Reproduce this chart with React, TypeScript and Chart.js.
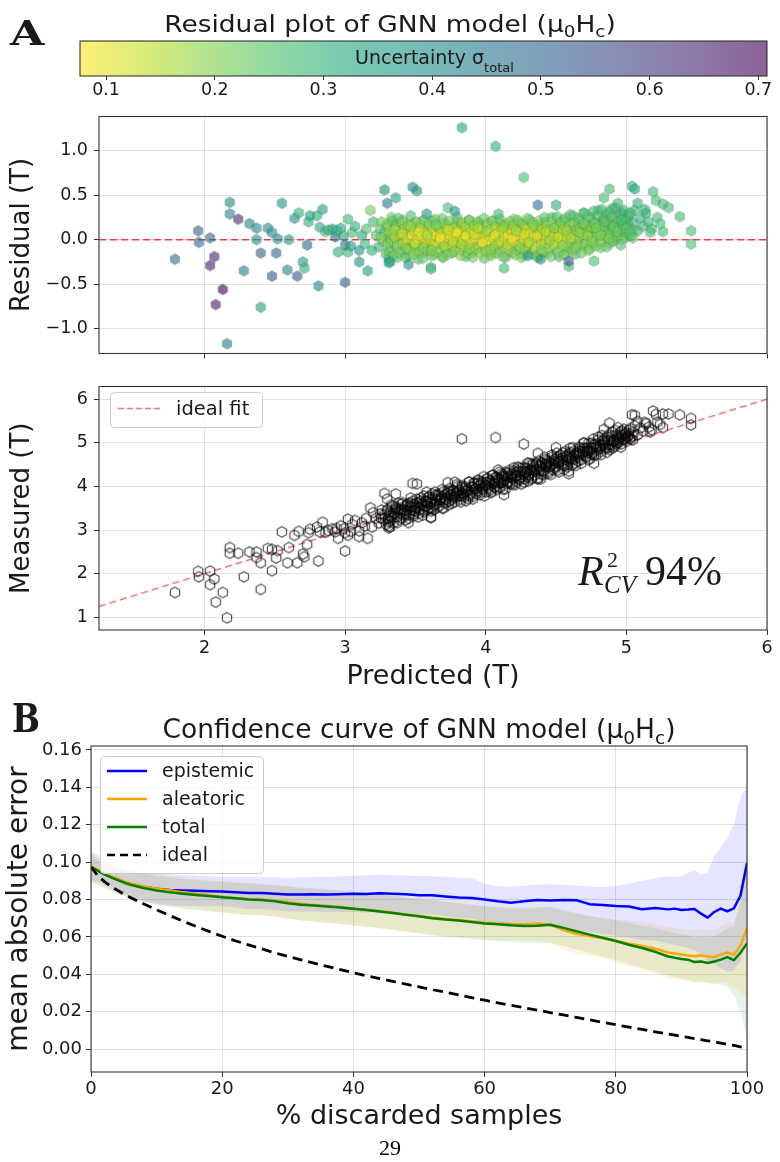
import React, { useEffect, useRef } from "react";
import { Chart, registerables } from "chart.js";

Chart.register(...registerables);

const SANS = "'DejaVu Sans', 'Noto Sans', sans-serif";
const SERIF = "'Liberation Serif', 'DejaVu Serif', serif";
const SLAB = "'DejaVu Serif', serif";
const INK = "#1a1a1a";

// ---------- Panel A: GNN predictions, [predicted (T), residual (T), sigma_total] ----------
const sparseSamples = [
  [1.79, -0.22, 0.47], [1.955, 0.1, 0.5], [1.96, -0.03, 0.49], [2.04, 0.02, 0.48], [2.07, -0.19, 0.64],
  [2.04, -0.29, 0.65], [2.13, -0.56, 0.7], [2.08, -0.73, 0.66], [2.16, -1.17, 0.43], [2.18, 0.42, 0.4],
  [2.18, 0.29, 0.41], [2.24, 0.23, 0.63], [2.28, -0.35, 0.44], [2.32, 0.18, 0.42], [2.37, 0.13, 0.42],
  [2.37, 0.0, 0.38], [2.4, -0.15, 0.5], [2.4, -0.76, 0.35], [2.45, 0.13, 0.4], [2.48, -0.41, 0.53],
  [2.48, 0.08, 0.4], [2.51, -0.15, 0.48], [2.52, 0.01, 0.4], [2.55, 0.41, 0.37], [2.59, -0.34, 0.42],
  [2.6, 0.0, 0.36], [2.64, 0.24, 0.4], [2.66, -0.41, 0.52], [2.67, 0.3, 0.3], [2.7, -0.25, 0.35],
  [2.71, -0.32, 0.3], [2.73, -0.06, 0.48], [2.74, 0.2, 0.3], [2.75, 0.27, 0.35], [2.8, 0.27, 0.3],
  [2.81, -0.52, 0.42], [2.84, 0.34, 0.35], [2.82, 0.14, 0.32], [2.86, 0.09, 0.28], [2.91, 0.12, 0.34],
  [2.93, 0.03, 0.48], [2.95, -0.14, 0.3], [2.97, 0.13, 0.32], [2.99, 0.04, 0.32], [3.0, -0.48, 0.5],
  [3.02, -0.14, 0.28], [3.02, 0.23, 0.28], [3.0, -0.06, 0.46], [3.04, -0.07, 0.35], [3.1, -0.25, 0.4],
  [3.1, -0.12, 0.38], [3.16, -0.35, 0.36], [3.18, 0.33, 0.22], [3.28, 0.56, 0.4], [3.3, 0.41, 0.45],
  [3.36, 0.47, 0.33], [3.31, -0.26, 0.32], [3.31, -0.21, 0.3], [2.88, 0.11, 0.29], [2.94, 0.1, 0.31],
  [3.05, 0.08, 0.27], [3.07, 0.15, 0.3], [3.12, 0.05, 0.32], [3.14, -0.05, 0.29], [3.15, 0.12, 0.26],
  [3.19, -0.12, 0.3], [3.2, 0.2, 0.28],
];

const bandSamples = [
  [3.22, 0.05, 0.26], [3.24, -0.08, 0.29], [3.25, 0.12, 0.24], [3.26, 0.2, 0.23], [3.27, -0.02, 0.22],
  [3.28, 0.08, 0.27], [3.29, -0.16, 0.26], [3.3, 0.15, 0.2], [3.31, 0.02, 0.26], [3.32, -0.1, 0.24],
  [3.33, 0.25, 0.22], [3.34, 0.06, 0.2], [3.35, -0.05, 0.27], [3.36, 0.18, 0.25], [3.37, -0.2, 0.23],
  [3.38, 0.1, 0.18], [3.39, 0.0, 0.22], [3.4, -0.12, 0.26],
  [3.41, 0.22, 0.21], [3.42, 0.04, 0.16], [3.43, -0.07, 0.2], [3.44, 0.14, 0.19], [3.45, -0.18, 0.26],
  [3.46, 0.09, 0.13], [3.47, -0.02, 0.2], [3.48, 0.18, 0.23], [3.49, -0.12, 0.21], [3.5, 0.03, 0.11],
  [3.51, 0.12, 0.2], [3.52, -0.22, 0.25], [3.53, -0.06, 0.18], [3.54, 0.2, 0.22], [3.55, 0.06, 0.15],
  [3.56, -0.14, 0.23], [3.57, 0.1, 0.2], [3.58, -0.03, 0.12], [3.59, 0.16, 0.24], [3.6, -0.09, 0.21],
  [3.61, 0.01, 0.17], [3.62, 0.21, 0.26], [3.63, -0.17, 0.22], [3.64, 0.08, 0.1], [3.65, -0.05, 0.19],
  [3.66, 0.13, 0.21], [3.67, -0.11, 0.2], [3.68, 0.04, 0.14], [3.69, 0.24, 0.23], [3.7, -0.2, 0.24],
  [3.71, 0.1, 0.18], [3.72, -0.01, 0.11], [3.73, 0.17, 0.21], [3.74, -0.08, 0.21], [3.75, 0.05, 0.16],
  [3.76, -0.15, 0.25], [3.77, 0.14, 0.19], [3.78, 0.0, 0.1], [3.79, -0.04, 0.22], [3.8, 0.2, 0.23],
  [3.81, 0.07, 0.15], [3.82, -0.12, 0.2], [3.83, 0.16, 0.2], [3.84, -0.02, 0.13], [3.85, 0.11, 0.22],
  [3.86, -0.19, 0.26], [3.87, 0.03, 0.1], [3.88, 0.22, 0.25], [3.89, -0.07, 0.19], [3.9, 0.09, 0.17],
  [3.91, -0.14, 0.23], [3.92, 0.15, 0.2], [3.93, 0.01, 0.12], [3.94, -0.05, 0.2], [3.95, 0.19, 0.22],
  [3.96, 0.06, 0.14], [3.97, -0.1, 0.21], [3.98, 0.12, 0.18], [3.99, -0.21, 0.24], [4.0, 0.02, 0.16],
  [4.01, 0.17, 0.21], [4.02, -0.06, 0.18], [4.03, 0.08, 0.11], [4.04, -0.16, 0.23], [4.05, 0.21, 0.24],
  [4.06, 0.0, 0.15], [4.07, -0.09, 0.2], [4.08, 0.13, 0.19], [4.09, 0.05, 0.1], [4.1, -0.13, 0.22],
  [4.11, 0.18, 0.21], [4.12, -0.03, 0.17], [4.13, 0.1, 0.2], [4.14, -0.2, 0.26], [4.15, 0.04, 0.13],
  [4.16, 0.15, 0.23], [4.17, -0.08, 0.21], [4.18, 0.07, 0.16], [4.19, -0.15, 0.24], [4.2, 0.23, 0.22],
  [4.21, 0.02, 0.18], [4.22, -0.11, 0.21], [4.23, 0.12, 0.12], [4.24, 0.19, 0.25], [4.25, -0.04, 0.19],
  [4.26, 0.08, 0.15], [4.27, -0.17, 0.24], [4.28, 0.15, 0.21], [4.29, 0.03, 0.11], [4.3, -0.08, 0.22],
  [4.31, 0.22, 0.23], [4.32, 0.06, 0.17], [4.33, -0.13, 0.2], [4.34, 0.11, 0.2], [4.35, -0.01, 0.14],
  [4.36, 0.17, 0.26], [4.37, -0.2, 0.25], [4.38, 0.09, 0.18], [4.39, 0.0, 0.21], [4.4, 0.14, 0.22],
  [4.41, -0.06, 0.2], [4.42, 0.2, 0.24], [4.43, 0.05, 0.16], [4.44, -0.15, 0.23], [4.45, 0.12, 0.2],
  [4.46, 0.02, 0.13], [4.47, 0.25, 0.25], [4.48, -0.1, 0.22], [4.49, 0.08, 0.19], [4.5, -0.03, 0.17],
  [4.51, 0.16, 0.23], [4.52, -0.19, 0.27], [4.53, 0.1, 0.21], [4.54, 0.04, 0.15], [4.55, 0.22, 0.26],
  [4.56, -0.08, 0.21], [4.57, 0.13, 0.22], [4.58, -0.13, 0.24], [4.59, 0.07, 0.18], [4.6, 0.18, 0.25],
  [4.61, -0.02, 0.21], [4.62, 0.27, 0.27], [4.63, 0.09, 0.2], [4.64, -0.16, 0.25], [4.65, 0.14, 0.23],
  [4.66, 0.03, 0.19], [4.67, 0.21, 0.26], [4.68, -0.07, 0.22], [4.69, 0.11, 0.21], [4.7, 0.3, 0.25],
  [4.71, 0.0, 0.2], [4.72, 0.16, 0.24], [4.73, -0.12, 0.23], [4.74, 0.07, 0.21], [4.75, 0.24, 0.27],
  [4.76, 0.12, 0.22], [4.77, -0.05, 0.21], [4.78, 0.19, 0.26], [4.79, 0.04, 0.2], [4.8, 0.33, 0.26],
  [4.81, 0.1, 0.23], [4.82, -0.09, 0.24], [4.83, 0.22, 0.28], [4.84, 0.15, 0.25], [4.85, 0.02, 0.22],
  [4.86, 0.28, 0.27], [4.87, 0.08, 0.24], [4.88, -0.04, 0.23], [4.89, 0.18, 0.29], [4.9, 0.35, 0.27],
  [4.91, 0.12, 0.25], [4.92, 0.0, 0.24], [4.93, 0.25, 0.28], [4.94, 0.06, 0.23], [4.95, 0.16, 0.3],
  [4.96, -0.06, 0.26], [4.97, 0.3, 0.29], [4.98, 0.1, 0.25], [4.99, 0.21, 0.27], [5.0, 0.03, 0.26],
  [5.01, 0.14, 0.28], [5.02, 0.27, 0.29], [5.03, 0.05, 0.26], [5.05, 0.19, 0.3], [5.06, 0.33, 0.27],
  [5.08, 0.1, 0.29], [5.1, 0.24, 0.31], [5.12, 0.15, 0.28], [5.14, 0.3, 0.3], [5.16, 0.2, 0.29],
  [5.18, 0.12, 0.27],
];

const bandFillSamples = [
  [3.302, 0.17, 0.2], [3.311, -0.13, 0.22], [3.318, 0.09, 0.18], [3.327, -0.01, 0.2], [3.336, 0.21, 0.24],
  [3.344, -0.18, 0.23], [3.353, 0.03, 0.15], [3.362, 0.14, 0.21], [3.37, -0.07, 0.19], [3.379, 0.24, 0.25],
  [3.388, -0.15, 0.21], [3.396, 0.06, 0.13], [3.405, 0.19, 0.2], [3.414, -0.04, 0.16], [3.422, 0.12, 0.17],
  [3.431, -0.2, 0.24], [3.44, 0.01, 0.12], [3.448, 0.16, 0.19], [3.457, -0.11, 0.18], [3.466, 0.27, 0.26],
  [3.474, 0.05, 0.11], [3.483, -0.17, 0.2], [3.492, 0.1, 0.14], [3.5, -0.06, 0.17], [3.509, 0.2, 0.21],
  [3.518, 0.0, 0.09], [3.526, -0.14, 0.2], [3.535, 0.13, 0.16], [3.544, 0.03, 0.1], [3.552, -0.21, 0.23],
  [3.561, 0.22, 0.21], [3.57, -0.03, 0.13], [3.578, 0.08, 0.1], [3.587, -0.12, 0.18], [3.596, 0.17, 0.2],
  [3.604, 0.01, 0.11], [3.613, -0.18, 0.21], [3.622, 0.11, 0.15], [3.63, -0.06, 0.14], [3.639, 0.23, 0.22],
  [3.648, 0.04, 0.09], [3.656, -0.14, 0.19], [3.665, 0.15, 0.18], [3.674, -0.01, 0.1], [3.682, 0.07, 0.12],
  [3.691, -0.19, 0.22], [3.7, 0.18, 0.2], [3.708, 0.02, 0.09], [3.717, -0.09, 0.16], [3.726, 0.12, 0.14],
  [3.734, -0.16, 0.21], [3.743, 0.21, 0.21], [3.752, 0.04, 0.09], [3.76, -0.06, 0.13], [3.769, 0.13, 0.17],
  [3.778, -0.13, 0.19], [3.786, 0.06, 0.1], [3.795, 0.25, 0.24], [3.804, -0.02, 0.11], [3.812, 0.1, 0.13],
  [3.821, -0.18, 0.2], [3.83, 0.19, 0.19], [3.838, 0.0, 0.09], [3.847, -0.08, 0.15], [3.856, 0.14, 0.16],
  [3.864, 0.05, 0.09], [3.873, -0.15, 0.2], [3.882, 0.22, 0.21], [3.89, -0.03, 0.12], [3.899, 0.09, 0.11],
  [3.908, -0.2, 0.22], [3.916, 0.16, 0.18], [3.925, 0.02, 0.09], [3.934, -0.1, 0.16], [3.942, 0.2, 0.21],
  [3.951, 0.07, 0.1], [3.96, -0.15, 0.2], [3.968, 0.12, 0.14], [3.977, -0.04, 0.11], [3.986, 0.24, 0.23],
  [3.994, 0.04, 0.1], [4.003, -0.13, 0.18], [4.012, 0.17, 0.19], [4.02, -0.01, 0.09], [4.029, 0.1, 0.12],
  [4.038, -0.18, 0.2], [4.046, 0.21, 0.2], [4.055, 0.03, 0.09], [4.064, -0.07, 0.14], [4.072, 0.14, 0.16],
  [4.081, -0.15, 0.21], [4.09, 0.08, 0.1], [4.098, 0.23, 0.22], [4.107, -0.03, 0.11], [4.116, 0.11, 0.13],
  [4.124, -0.19, 0.21], [4.133, 0.02, 0.09], [4.142, 0.18, 0.2], [4.15, -0.09, 0.16], [4.159, 0.06, 0.1],
  [4.168, 0.2, 0.21], [4.176, -0.12, 0.18], [4.185, 0.11, 0.12], [4.194, -0.02, 0.1], [4.202, 0.16, 0.18],
  [4.211, -0.17, 0.2], [4.22, 0.04, 0.09], [4.228, 0.22, 0.21], [4.237, -0.06, 0.13], [4.246, 0.09, 0.11],
  [4.254, -0.2, 0.22], [4.263, 0.17, 0.19], [4.272, 0.0, 0.1], [4.28, -0.11, 0.17], [4.289, 0.12, 0.13],
  [4.298, 0.24, 0.23], [4.306, -0.04, 0.12], [4.315, 0.07, 0.1], [4.324, -0.16, 0.21], [4.332, 0.19, 0.2],
  [4.341, 0.03, 0.11], [4.35, -0.09, 0.15], [4.358, 0.14, 0.16], [4.367, -0.18, 0.21], [4.376, 0.21, 0.2],
  [4.384, 0.05, 0.1], [4.393, -0.05, 0.14], [4.402, 0.12, 0.15], [4.41, -0.14, 0.2], [4.419, 0.25, 0.24],
  [4.428, 0.01, 0.12], [4.436, 0.16, 0.18], [4.445, -0.1, 0.17], [4.454, 0.08, 0.11], [4.462, -0.19, 0.22],
  [4.471, 0.2, 0.2], [4.48, 0.04, 0.13], [4.488, -0.06, 0.15], [4.497, 0.13, 0.17], [4.506, 0.26, 0.25],
  [4.514, -0.14, 0.21], [4.523, 0.07, 0.13], [4.532, 0.19, 0.21], [4.54, -0.02, 0.14], [4.549, 0.11, 0.16],
  [4.558, -0.17, 0.21], [4.566, 0.24, 0.23], [4.575, 0.03, 0.14], [4.584, -0.08, 0.18], [4.592, 0.15, 0.19],
  [4.601, 0.28, 0.26], [4.61, 0.05, 0.16], [4.618, -0.12, 0.21], [4.627, 0.18, 0.2], [4.636, 0.0, 0.17],
  [4.644, 0.1, 0.18], [4.653, -0.07, 0.2], [4.662, 0.24, 0.24], [4.67, 0.13, 0.2], [4.679, -0.15, 0.22],
  [4.688, 0.06, 0.18], [4.696, 0.3, 0.26], [4.705, 0.17, 0.2], [4.714, -0.04, 0.2], [4.722, 0.1, 0.19],
  [4.731, 0.26, 0.24], [4.74, -0.1, 0.21], [4.748, 0.14, 0.21], [4.757, 0.02, 0.19], [4.766, 0.32, 0.27],
  [4.774, 0.19, 0.22], [4.783, -0.07, 0.21], [4.792, 0.08, 0.2], [4.8, 0.27, 0.25], [4.809, 0.15, 0.21],
  [4.818, -0.02, 0.2], [4.826, 0.34, 0.27], [4.835, 0.11, 0.21], [4.844, 0.23, 0.24], [4.852, 0.04, 0.2],
  [4.861, -0.08, 0.23], [4.87, 0.18, 0.23], [4.878, 0.31, 0.27], [4.887, 0.07, 0.21], [4.896, 0.25, 0.25],
  [4.904, -0.02, 0.22], [4.913, 0.15, 0.23], [4.922, 0.36, 0.28], [4.93, 0.04, 0.22], [4.939, 0.2, 0.24],
  [4.948, 0.12, 0.23], [4.957, 0.29, 0.27], [4.966, 0.01, 0.23], [4.974, 0.17, 0.25], [4.983, 0.33, 0.28],
  [4.992, 0.08, 0.24], [5.0, 0.23, 0.26], [5.014, 0.16, 0.26], [5.028, 0.3, 0.28], [5.042, 0.11, 0.25],
];

const bandCoreSamples = [
  [3.255, 0.02, 0.2], [3.305, -0.04, 0.21], [3.355, 0.11, 0.17], [3.405, 0.07, 0.15], [3.435, -0.1, 0.21],
  [3.465, 0.15, 0.18], [3.495, -0.04, 0.14], [3.525, 0.09, 0.1], [3.555, -0.09, 0.2], [3.585, 0.05, 0.16],
  [3.615, -0.12, 0.2], [3.645, 0.16, 0.21], [3.675, 0.02, 0.09], [3.705, -0.07, 0.17], [3.735, 0.11, 0.13],
  [3.765, -0.02, 0.15], [3.795, 0.08, 0.09], [3.825, -0.05, 0.18], [3.855, 0.04, 0.11], [3.885, -0.1, 0.19],
  [3.915, 0.06, 0.14], [3.945, 0.13, 0.16], [3.975, -0.03, 0.1], [4.005, 0.09, 0.19], [4.035, -0.11, 0.2],
  [4.065, 0.05, 0.12], [4.095, -0.02, 0.16], [4.125, 0.14, 0.18], [4.155, -0.06, 0.15], [4.185, 0.01, 0.1],
  [4.215, 0.1, 0.17], [4.245, -0.09, 0.21], [4.275, 0.06, 0.13], [4.305, -0.03, 0.16], [4.335, 0.16, 0.19],
  [4.365, 0.04, 0.12], [4.395, -0.12, 0.2], [4.425, 0.09, 0.16], [4.455, -0.01, 0.18], [4.485, 0.13, 0.2],
  [4.515, 0.03, 0.14], [4.545, -0.07, 0.19], [4.575, 0.1, 0.17], [4.605, 0.02, 0.16], [4.635, -0.09, 0.21],
  [4.665, 0.08, 0.2], [4.695, 0.18, 0.22], [4.725, 0.04, 0.18], [4.755, -0.02, 0.2], [4.785, 0.13, 0.21],
  [4.815, 0.05, 0.21], [4.845, 0.2, 0.24], [4.875, 0.01, 0.21], [4.905, 0.14, 0.23], [4.935, 0.09, 0.22],
  [4.965, 0.22, 0.26], [4.995, 0.13, 0.24], [5.025, 0.08, 0.25], [5.045, 0.02, 0.24],
];

const edgeSamples = [
  [3.45, -0.28, 0.4], [3.61, -0.31, 0.3], [3.61, -0.33, 0.27], [3.32, -0.25, 0.34], [3.58, 0.29, 0.36],
  [3.73, 0.36, 0.27], [3.78, 0.32, 0.38], [4.09, 0.29, 0.28], [4.37, 0.39, 0.47], [4.5, 0.39, 0.3],
  [4.13, -0.32, 0.27], [4.39, -0.22, 0.38], [4.59, -0.3, 0.27], [4.59, -0.24, 0.52], [4.77, -0.24, 0.26],
  [4.3, -0.18, 0.36], [3.51, 0.55, 0.38], [3.48, 0.59, 0.4], [4.88, 0.57, 0.27], [4.84, 0.47, 0.27],
  [5.04, 0.6, 0.3], [5.06, 0.57, 0.33], [5.19, 0.54, 0.27], [5.21, 0.44, 0.27], [5.26, 0.4, 0.28],
  [5.3, 0.36, 0.27], [5.38, 0.26, 0.27], [5.46, 0.1, 0.26], [5.46, -0.05, 0.26], [5.26, 0.09, 0.27],
  [5.17, 0.08, 0.26], [4.94, 0.41, 0.28], [5.08, 0.41, 0.3], [5.13, 0.34, 0.3], [5.22, 0.25, 0.27],
  [5.24, 0.18, 0.27], [3.83, 1.26, 0.33], [4.07, 1.05, 0.3], [4.27, 0.7, 0.26],
];

const predictedTicks = [2, 3, 4, 5, 6];
const residualTicks = [-1, -0.5, 0, 0.5, 1];
const measuredTicks = [1, 2, 3, 4, 5, 6];
const sigmaTicks = [0.1, 0.2, 0.3, 0.4, 0.5, 0.6, 0.7];
const predictedRange = [1.25, 6];
const residualRange = [-1.28, 1.385];
const measuredRange = [0.71, 6.29];
const sigmaRange = [0.076, 0.708];

// ---------- Panel B: confidence curves ----------
const discardedPct = [
  0, 1, 2, 3, 4, 5, 6, 8, 10, 12, 14, 16, 18, 20, 22, 24, 26, 28, 30, 32,
  34, 36, 38, 40, 42, 44, 46, 48, 50, 52, 54, 56, 58, 60, 62, 64, 66, 68, 70, 72,
  74, 76, 78, 80, 82, 84, 86, 88, 89, 90, 91, 92, 93, 94, 95, 96, 97, 98, 99, 100,
];
const epistemicMae = [
  0.0975, 0.0955, 0.0937, 0.0921, 0.0907, 0.0894, 0.0883, 0.0868, 0.0857, 0.0851,
  0.0848, 0.0846, 0.0844, 0.0843, 0.0839, 0.0834, 0.0835, 0.083, 0.0826, 0.0827,
  0.0828, 0.0826, 0.0828, 0.083, 0.0829, 0.0833, 0.0831, 0.0828, 0.0823, 0.0822,
  0.0816, 0.081, 0.0808, 0.08, 0.079, 0.0783, 0.0791, 0.0797, 0.0795, 0.0797,
  0.0796, 0.0775, 0.077, 0.0765, 0.0762, 0.0748, 0.0754, 0.0747, 0.0751, 0.0744,
  0.0746, 0.0749, 0.0724, 0.0703, 0.0733, 0.0751, 0.0737, 0.0752, 0.082, 0.0995,
];
const epistemicUpper = [
  0.1045, 0.1015, 0.0995, 0.0978, 0.0966, 0.0957, 0.095, 0.0944, 0.094, 0.0935,
  0.0931, 0.0927, 0.0924, 0.0922, 0.0921, 0.0919, 0.0921, 0.0918, 0.0916, 0.0918,
  0.092, 0.0921, 0.0924, 0.0927, 0.0929, 0.0932, 0.093, 0.0928, 0.0925, 0.0924,
  0.0921, 0.0918, 0.0914, 0.0886, 0.0871, 0.0868, 0.0874, 0.088, 0.0881, 0.0878,
  0.0875, 0.0869, 0.0866, 0.0874, 0.0884, 0.0899, 0.0913, 0.0924, 0.0921, 0.0926,
  0.0941, 0.0958, 0.0935, 0.0945, 0.1035, 0.108, 0.113, 0.12, 0.135, 0.14,
];
const epistemicLower = [
  0.0905, 0.0895, 0.0879, 0.0864, 0.0848, 0.0831, 0.0816, 0.0792, 0.0774, 0.0767,
  0.0765, 0.0765, 0.0764, 0.0764, 0.0757, 0.0749, 0.0749, 0.0742, 0.0736, 0.0736,
  0.0736, 0.0731, 0.0732, 0.0733, 0.0729, 0.0734, 0.0732, 0.0728, 0.0721, 0.072,
  0.0711, 0.0702, 0.0698, 0.0682, 0.067, 0.0662, 0.0665, 0.0664, 0.0659, 0.0652,
  0.064, 0.0625, 0.0617, 0.0606, 0.0597, 0.0583, 0.058, 0.0566, 0.0558, 0.0549,
  0.054, 0.053, 0.0508, 0.0472, 0.0455, 0.0432, 0.0415, 0.042, 0.047, 0.06,
];
const aleatoricMae = [
  0.0975, 0.096, 0.0941, 0.0925, 0.0911, 0.0897, 0.0886, 0.0869, 0.0858, 0.0849,
  0.0838, 0.083, 0.0822, 0.0815, 0.0808, 0.0803, 0.08, 0.0795, 0.0786, 0.0777,
  0.0771, 0.0765, 0.076, 0.0752, 0.0745, 0.0738, 0.0729, 0.072, 0.0712, 0.0703,
  0.0696, 0.069, 0.0683, 0.0676, 0.0672, 0.0669, 0.0668, 0.0671, 0.0664, 0.0636,
  0.0616, 0.0605, 0.0593, 0.0578, 0.0563, 0.0551, 0.0536, 0.0516, 0.0511, 0.0506,
  0.05, 0.0496, 0.0501, 0.0495, 0.0492, 0.0506, 0.0516, 0.0505, 0.0552, 0.0648,
];
const aleatoricUpper = [
  0.1058, 0.104, 0.1016, 0.0998, 0.0984, 0.0971, 0.096, 0.0944, 0.0933, 0.0926,
  0.0917, 0.091, 0.0904, 0.0899, 0.0893, 0.0889, 0.0885, 0.088, 0.0873, 0.0866,
  0.0861, 0.0856, 0.085, 0.0843, 0.0837, 0.083, 0.0822, 0.0814, 0.0806, 0.0798,
  0.079, 0.0783, 0.0775, 0.0766, 0.0762, 0.0758, 0.0757, 0.0761, 0.076, 0.0738,
  0.0722, 0.071, 0.0702, 0.0694, 0.0686, 0.0678, 0.0668, 0.0652, 0.0648, 0.0643,
  0.064, 0.0636, 0.0642, 0.0638, 0.064, 0.0656, 0.0672, 0.068, 0.08, 0.1,
];
const aleatoricLower = [
  0.0892, 0.088, 0.0866, 0.0852, 0.0838, 0.0823, 0.0812, 0.0794, 0.0783, 0.0772,
  0.0759, 0.075, 0.074, 0.0731, 0.0723, 0.0717, 0.0715, 0.071, 0.0699, 0.0688,
  0.0681, 0.0674, 0.067, 0.0661, 0.0653, 0.0646, 0.0636, 0.0626, 0.0618, 0.0608,
  0.0602, 0.0597, 0.0591, 0.0586, 0.0582, 0.058, 0.0579, 0.0581, 0.0568, 0.0534,
  0.051, 0.05, 0.0486, 0.0462, 0.044, 0.0424, 0.0404, 0.038, 0.0374, 0.0369,
  0.036, 0.0356, 0.036, 0.0352, 0.0344, 0.0356, 0.036, 0.033, 0.03, 0.029,
];
const totalMae = [
  0.0975, 0.0955, 0.0935, 0.092, 0.0905, 0.0891, 0.0879, 0.0861, 0.0848, 0.0838,
  0.083, 0.0824, 0.0818, 0.0812, 0.0806, 0.08, 0.0797, 0.079, 0.078, 0.0772,
  0.0768, 0.0762, 0.0757, 0.075, 0.0744, 0.0736, 0.0727, 0.0718, 0.071, 0.07,
  0.0693, 0.0688, 0.068, 0.0672, 0.0668, 0.0662, 0.0658, 0.066, 0.0665, 0.0648,
  0.063, 0.0612, 0.0595, 0.0578, 0.0558, 0.054, 0.052, 0.0495, 0.0488, 0.0482,
  0.0478, 0.0465, 0.0468, 0.046, 0.0468, 0.0478, 0.0492, 0.0475, 0.0515, 0.0565,
];
const totalUpper = [
  0.1055, 0.1035, 0.101, 0.0992, 0.0978, 0.0965, 0.0953, 0.0937, 0.0925, 0.0917,
  0.091, 0.0904, 0.0899, 0.0895, 0.089, 0.0885, 0.0881, 0.0875, 0.0868, 0.0862,
  0.0857, 0.0852, 0.0846, 0.084, 0.0834, 0.0827, 0.0819, 0.081, 0.0802, 0.0794,
  0.0787, 0.078, 0.0771, 0.0762, 0.0757, 0.0752, 0.075, 0.0754, 0.0761, 0.0745,
  0.0728, 0.0712, 0.07, 0.0688, 0.0674, 0.066, 0.0646, 0.0628, 0.062, 0.0612,
  0.0608, 0.0598, 0.0602, 0.0596, 0.0605, 0.062, 0.0645, 0.066, 0.078, 0.105,
];
const totalLower = [
  0.0895, 0.0877, 0.086, 0.0848, 0.0833, 0.0818, 0.0806, 0.0786, 0.0772, 0.076,
  0.0751, 0.0744, 0.0737, 0.073, 0.0724, 0.0718, 0.0714, 0.0707, 0.0697, 0.0688,
  0.0682, 0.0675, 0.0668, 0.0661, 0.0655, 0.0647, 0.0638, 0.0629, 0.062, 0.061,
  0.0602, 0.0596, 0.0589, 0.0582, 0.0578, 0.0572, 0.0567, 0.0566, 0.0568, 0.0552,
  0.0533, 0.0513, 0.0494, 0.0476, 0.0455, 0.0434, 0.0413, 0.0392, 0.0384, 0.0376,
  0.037, 0.036, 0.0362, 0.0354, 0.035, 0.0345, 0.0335, 0.029, 0.02, 0.006,
];
const idealMae = [
  0.0975, 0.0928, 0.0897, 0.0871, 0.0849, 0.0829, 0.0811, 0.0777, 0.0745, 0.0714,
  0.0684, 0.0656, 0.0629, 0.0603, 0.0579, 0.0557, 0.0536, 0.0515, 0.0495, 0.0477,
  0.0459, 0.0442, 0.0425, 0.0408, 0.0392, 0.0377, 0.0362, 0.0347, 0.0333, 0.0318,
  0.0304, 0.029, 0.0275, 0.0261, 0.0247, 0.0234, 0.0221, 0.0208, 0.0195, 0.0182,
  0.0169, 0.0156, 0.0143, 0.013, 0.0117, 0.0105, 0.0092, 0.008, 0.0074, 0.0068,
  0.0062, 0.0056, 0.005, 0.0044, 0.0038, 0.0032, 0.0025, 0.0019, 0.0012, 0.0005,
];
const discardedTicks = [0, 20, 40, 60, 80, 100];
const maeTicks = [0, 0.02, 0.04, 0.06, 0.08, 0.1, 0.12, 0.14, 0.16];
const maeRange = [-0.0123, 0.1621];

// ---------- helpers ----------
const samples = [...sparseSamples, ...bandSamples, ...bandFillSamples, ...bandCoreSamples, ...edgeSamples];

const VIRIDIS = [
  [68, 1, 84], [72, 36, 117], [65, 68, 135], [53, 95, 141], [42, 120, 142], [33, 145, 140],
  [34, 168, 132], [68, 191, 112], [122, 209, 81], [189, 223, 38], [253, 231, 37],
];

function viridisR(t: number) {
  const u = 1 - Math.min(1, Math.max(0, t));
  const p = u * 10;
  const i = Math.min(9, Math.floor(p));
  const f = p - i;
  const a = VIRIDIS[i];
  const b = VIRIDIS[i + 1];
  return [0, 1, 2].map((k) => Math.round(a[k] + (b[k] - a[k]) * f));
}

function normColor(t: number, alpha: number) {
  const [r, g, b] = viridisR(t);
  return `rgba(${r},${g},${b},${alpha})`;
}

function sigmaColor(s: number, alpha: number) {
  return normColor((s - sigmaRange[0]) / (sigmaRange[1] - sigmaRange[0]), alpha);
}

const hexCache = new Map<string, HTMLCanvasElement>();
function hexMarker(fill: string | null, stroke: string | null, r: number, lw: number) {
  const key = `${fill}|${stroke}|${r}|${lw}`;
  const hit = hexCache.get(key);
  if (hit) return hit;
  const size = Math.ceil(2 * r + lw + 2);
  const c = document.createElement("canvas");
  c.width = size;
  c.height = size;
  const g = c.getContext("2d")!;
  const cx = size / 2;
  const cy = size / 2;
  g.beginPath();
  for (let k = 0; k < 6; k++) {
    const a = -Math.PI / 2 + (k * Math.PI) / 3;
    const x = cx + r * Math.cos(a);
    const y = cy + r * Math.sin(a);
    if (k === 0) g.moveTo(x, y);
    else g.lineTo(x, y);
  }
  g.closePath();
  if (fill) {
    g.fillStyle = fill;
    g.fill();
  }
  if (stroke) {
    g.strokeStyle = stroke;
    g.lineWidth = lw;
    g.stroke();
  }
  hexCache.set(key, c);
  return c;
}

type Seg = { t: string; size: number; dy?: number; family?: string; style?: string };

function drawRich(ctx: any, segs: Seg[], x: number, y: number, align: string, sx = 1, color = INK) {
  ctx.save();
  ctx.fillStyle = color;
  ctx.textBaseline = "alphabetic";
  ctx.textAlign = "left";
  const fontOf = (s: Seg) => `${s.style ? s.style + " " : ""}${s.size}px ${s.family || SANS}`;
  const ws = segs.map((s) => {
    ctx.font = fontOf(s);
    return ctx.measureText(s.t).width;
  });
  const total = ws.reduce((a, b) => a + b, 0) * sx;
  const x0 = align === "center" ? x - total / 2 : x;
  ctx.translate(x0, y);
  ctx.scale(sx, 1);
  let off = 0;
  segs.forEach((s, i) => {
    ctx.font = fontOf(s);
    ctx.fillText(s.t, off, s.dy || 0);
    off += ws[i];
  });
  ctx.restore();
}

function roundRect(ctx: any, x: number, y: number, w: number, h: number, r: number) {
  ctx.beginPath();
  ctx.moveTo(x + r, y);
  ctx.arcTo(x + w, y, x + w, y + h, r);
  ctx.arcTo(x + w, y + h, x, y + h, r);
  ctx.arcTo(x, y + h, x, y, r);
  ctx.arcTo(x, y, x + w, y, r);
  ctx.closePath();
}

function drawFrame(chart: any) {
  const { ctx, chartArea: a } = chart;
  ctx.save();
  ctx.strokeStyle = "#333";
  ctx.lineWidth = 1.1;
  ctx.strokeRect(a.left, a.top, a.right - a.left, a.bottom - a.top);
  ctx.restore();
}

function legendBox(ctx: any, x: number, y: number, w: number, h: number) {
  ctx.save();
  roundRect(ctx, x, y, w, h, 4);
  ctx.fillStyle = "rgba(255,255,255,0.8)";
  ctx.fill();
  ctx.strokeStyle = "#cccccc";
  ctx.lineWidth = 1;
  ctx.stroke();
  ctx.restore();
}

function legendEntry(ctx: any, x0: number, x1: number, y: number, color: string, lw: number, dash: number[], label: string, tx: number, size: number) {
  ctx.save();
  ctx.strokeStyle = color;
  ctx.lineWidth = lw;
  ctx.setLineDash(dash);
  ctx.beginPath();
  ctx.moveTo(x0, y);
  ctx.lineTo(x1, y);
  ctx.stroke();
  ctx.setLineDash([]);
  ctx.fillStyle = INK;
  ctx.font = `${size}px ${SANS}`;
  ctx.textBaseline = "middle";
  ctx.textAlign = "left";
  ctx.fillText(label, tx, y + 1);
  ctx.restore();
}

const minus = (v: number, d: number) => (v < 0 ? "\u2212" : "") + Math.abs(v).toFixed(d);

const gridOpts = {
  color: "rgba(0,0,0,0.12)",
  lineWidth: 1,
  drawTicks: true,
  tickLength: 5,
  tickColor: "#333",
  tickWidth: 1,
};

function fixedTicks(values: number[]) {
  return (axis: any) => {
    axis.ticks = values.map((value) => ({ value }));
  };
}

const baseOptions = {
  animation: false as const,
  responsive: false,
  events: [] as any[],
  plugins: { legend: { display: false }, tooltip: { enabled: false } },
};

export default function App() {
  const cbRef = useRef<HTMLCanvasElement>(null);
  const resRef = useRef<HTMLCanvasElement>(null);
  const measRef = useRef<HTMLCanvasElement>(null);
  const confRef = useRef<HTMLCanvasElement>(null);

  useEffect(() => {
    Chart.defaults.font.family = SANS;
    Chart.defaults.color = INK;
    const charts: Chart[] = [];

    // Colour bar with the figure title
    charts.push(
      new Chart(cbRef.current!, {
        type: "scatter",
        data: { datasets: [{ data: [] }] },
        options: {
          ...baseOptions,
          layout: { padding: { left: 80, right: 13, top: 41, bottom: 4 } },
          scales: {
            x: {
              type: "linear",
              bounds: "data",
              min: sigmaRange[0],
              max: sigmaRange[1],
              afterBuildTicks: fixedTicks(sigmaTicks),
              afterFit: (a: any) => {
                a.height = 20;
              },
              grid: { display: true, drawOnChartArea: false, drawTicks: true, tickLength: 4, tickColor: "#333" },
              border: { display: false },
              ticks: { padding: 0, autoSkip: false, maxRotation: 0, font: { size: 17.5 }, callback: (v: any) => Number(v).toFixed(1) },
            },
            y: { display: false, min: 0, max: 1 },
          },
        } as any,
        plugins: [
          {
            id: "colorbar",
            beforeDatasetsDraw(chart: any) {
              const { ctx, chartArea: a } = chart;
              const g = ctx.createLinearGradient(a.left, 0, a.right, 0);
              for (let i = 0; i <= 40; i++) g.addColorStop(i / 40, normColor(i / 40, 0.62));
              ctx.save();
              ctx.fillStyle = g;
              ctx.fillRect(a.left, a.top, a.right - a.left, a.bottom - a.top);
              ctx.restore();
            },
            afterDraw(chart: any) {
              const { ctx } = chart;
              drawFrame(chart);
              drawRich(ctx, [{ t: "Uncertainty \u03c3", size: 19 }, { t: "total", size: 13, dy: 8 }], 355, 64, "left");
              drawRich(
                ctx,
                [
                  { t: "Residual plot of GNN model (\u03bc", size: 23 },
                  { t: "0", size: 16, dy: 5 },
                  { t: "H", size: 23 },
                  { t: "c", size: 16, dy: 5 },
                  { t: ")", size: 23 },
                ],
                390,
                31.5,
                "center",
                1.15
              );
              drawRich(ctx, [{ t: "A", size: 34, family: SLAB, style: "bold" }], 10, 45, "left", 1.3);
            },
          },
        ],
      })
    );

    // Residual panel
    charts.push(
      new Chart(resRef.current!, {
        type: "scatter",
        data: {
          datasets: [
            {
              type: "line",
              data: predictedRange.map((x) => ({ x, y: 0 })),
              borderColor: "rgba(255,0,0,0.75)",
              borderWidth: 1.5,
              borderDash: [7, 4],
              pointRadius: 0,
              fill: false,
              order: 2,
            },
            {
              data: samples.map((s) => ({ x: s[0], y: s[1] })),
              pointRadius: 5.5,
              pointStyle: (c: any) => {
                const s = samples[c.dataIndex] || samples[0];
                return hexMarker(sigmaColor(s[2], 0.62), "rgba(70,70,70,0.32)", 5.5, 0.7);
              },
              order: 1,
            },
          ],
        },
        options: {
          ...baseOptions,
          layout: { padding: { left: 7, right: 13, top: 11, bottom: 3 } },
          scales: {
            x: {
              type: "linear",
              bounds: "data",
              min: predictedRange[0],
              max: predictedRange[1],
              afterBuildTicks: fixedTicks(predictedTicks),
              afterFit: (a: any) => {
                a.height = 6;
              },
              grid: gridOpts,
              border: { display: false },
              ticks: { display: false },
            },
            y: {
              type: "linear",
              bounds: "data",
              min: residualRange[0],
              max: residualRange[1],
              afterBuildTicks: fixedTicks(residualTicks),
              afterFit: (a: any) => {
                a.width = 92;
              },
              grid: gridOpts,
              border: { display: false },
              ticks: { padding: 6, autoSkip: false, font: { size: 17.5 }, callback: (v: any) => minus(Number(v), 1) },
              title: { display: true, text: "Residual (T)", font: { size: 26 }, padding: 0 },
            },
          },
        } as any,
        plugins: [{ id: "frameRes", afterDraw: (chart: any) => drawFrame(chart) }],
      })
    );

    // Measured vs predicted panel
    charts.push(
      new Chart(measRef.current!, {
        type: "scatter",
        data: {
          datasets: [
            {
              type: "line",
              data: predictedRange.map((x) => ({ x, y: x })),
              borderColor: "rgba(255,0,0,0.55)",
              borderWidth: 1.5,
              borderDash: [7, 4],
              pointRadius: 0,
              fill: false,
              order: 2,
            },
            {
              data: samples.map((s) => ({ x: s[0], y: s[0] + s[1] })),
              pointRadius: 5.5,
              pointStyle: hexMarker(null, "rgba(0,0,0,0.68)", 5.3, 1.2),
              order: 1,
            },
          ],
        },
        options: {
          ...baseOptions,
          layout: { padding: { left: 7, right: 13, top: 10, bottom: 7 } },
          scales: {
            x: {
              type: "linear",
              bounds: "data",
              min: predictedRange[0],
              max: predictedRange[1],
              afterBuildTicks: fixedTicks(predictedTicks),
              afterFit: (a: any) => {
                a.height = 63;
              },
              grid: gridOpts,
              border: { display: false },
              ticks: { padding: 3, autoSkip: false, maxRotation: 0, font: { size: 17.5 }, callback: (v: any) => String(v) },
              title: { display: true, text: "Predicted (T)", font: { size: 27 }, padding: 0 },
            },
            y: {
              type: "linear",
              bounds: "data",
              min: measuredRange[0],
              max: measuredRange[1],
              afterBuildTicks: fixedTicks(measuredTicks),
              afterFit: (a: any) => {
                a.width = 92;
              },
              grid: gridOpts,
              border: { display: false },
              ticks: { padding: 6, autoSkip: false, font: { size: 17.5 }, callback: (v: any) => String(v) },
              title: { display: true, text: "Measured (T)", font: { size: 26 }, padding: 0 },
            },
          },
        } as any,
        plugins: [
          {
            id: "decorMeas",
            afterDraw(chart: any) {
              const { ctx } = chart;
              drawFrame(chart);
              legendBox(ctx, 110.5, 22.5, 152, 35);
              legendEntry(ctx, 118, 160, 38.5, "rgba(255,0,0,0.55)", 1.5, [6, 3], "ideal fit", 176, 19.5);
              drawRich(ctx, [{ t: "R", size: 42, family: SERIF, style: "italic" }], 578, 215, "left");
              drawRich(ctx, [{ t: "2", size: 22, family: SERIF }], 607, 197, "left");
              drawRich(ctx, [{ t: "CV", size: 25, family: SERIF, style: "italic" }], 604, 223, "left");
              drawRich(ctx, [{ t: "94%", size: 42, family: SERIF }], 645, 215, "left");
            },
          },
        ],
      })
    );

    // Confidence curves
    const pts = (arr: number[]) => discardedPct.map((x, i) => ({ x, y: arr[i] }));
    const band = (arr: number[], color: string, fill: any, order: number) => ({
      data: pts(arr),
      borderColor: "rgba(0,0,0,0)",
      borderWidth: 0,
      backgroundColor: color,
      pointRadius: 0,
      fill,
      order,
    });
    const curve = (arr: number[], color: string, order: number, dash: number[] = [], width = 2.5) => ({
      data: pts(arr),
      borderColor: color,
      borderWidth: width,
      borderDash: dash,
      borderJoinStyle: "round",
      pointRadius: 0,
      fill: false,
      tension: 0,
      order,
    });

    charts.push(
      new Chart(confRef.current!, {
        type: "line",
        data: {
          datasets: [
            band(epistemicUpper, "rgba(0,0,255,0.1)", "+1", 10),
            band(epistemicLower, "rgba(0,0,255,0.1)", false, 11),
            band(aleatoricUpper, "rgba(255,165,0,0.12)", "+1", 12),
            band(aleatoricLower, "rgba(255,165,0,0.12)", false, 13),
            band(totalUpper, "rgba(0,128,0,0.1)", "+1", 14),
            band(totalLower, "rgba(0,128,0,0.1)", false, 15),
            curve(epistemicMae, "#0000ff", 3),
            curve(aleatoricMae, "#ffa500", 2),
            curve(totalMae, "#008000", 1),
            curve(idealMae, "#000000", 0, [10, 6], 2.8),
          ] as any,
        },
        options: {
          ...baseOptions,
          plugins: { ...baseOptions.plugins, filler: { drawTime: "beforeDatasetsDraw" } },
          layout: { padding: { left: 3, right: 33, top: 46, bottom: 29 } },
          scales: {
            x: {
              type: "linear",
              bounds: "data",
              min: 0,
              max: 100,
              afterBuildTicks: fixedTicks(discardedTicks),
              afterFit: (a: any) => {
                a.height = 61;
              },
              grid: gridOpts,
              border: { display: false },
              ticks: { padding: 2, autoSkip: false, maxRotation: 0, font: { size: 18 }, callback: (v: any) => String(v) },
              title: { display: true, text: "% discarded samples", font: { size: 27 }, padding: 0 },
            },
            y: {
              type: "linear",
              bounds: "data",
              min: maeRange[0],
              max: maeRange[1],
              afterBuildTicks: fixedTicks(maeTicks),
              afterFit: (a: any) => {
                a.width = 88;
              },
              grid: gridOpts,
              border: { display: false },
              ticks: { padding: 4, autoSkip: false, font: { size: 18 }, callback: (v: any) => Number(v).toFixed(2) },
              title: { display: true, text: "mean absolute error", font: { size: 28 }, padding: 0 },
            },
          },
        } as any,
        plugins: [
          {
            id: "decorConf",
            afterDraw(chart: any) {
              const { ctx } = chart;
              drawFrame(chart);
              legendBox(ctx, 100.5, 56.5, 163, 117);
              legendEntry(ctx, 107, 147, 71, "#0000ff", 2.5, [], "epistemic", 162, 19);
              legendEntry(ctx, 107, 147, 99, "#ffa500", 2.5, [], "aleatoric", 162, 19);
              legendEntry(ctx, 107, 147, 127, "#008000", 2.5, [], "total", 162, 19);
              legendEntry(ctx, 107, 147, 155, "#000000", 2.5, [8, 5], "ideal", 162, 19);
              drawRich(
                ctx,
                [
                  { t: "Confidence curve of GNN model (\u03bc", size: 26.5 },
                  { t: "0", size: 18.5, dy: 6 },
                  { t: "H", size: 26.5 },
                  { t: "c", size: 18.5, dy: 6 },
                  { t: ")", size: 26.5 },
                ],
                419,
                38,
                "center"
              );
              drawRich(ctx, [{ t: "B", size: 39, family: SLAB, style: "bold" }], 12, 32, "left", 0.85);
              drawRich(ctx, [{ t: "29", size: 22, family: SERIF }], 390, 455, "center", 1, "#000");
            },
          },
        ],
      })
    );

    return () => charts.forEach((c) => c.destroy());
  }, []);

  const cv = (top: number, h: number) => ({
    position: "absolute" as const,
    left: 0,
    top,
    width: 780,
    height: h,
  });

  return (
    <div style={{ position: "absolute", left: 0, top: 0, width: 780, height: 1162, background: "#fff", overflow: "hidden" }}>
      <canvas ref={cbRef} width={780} height={100} style={cv(0, 100)} />
      <canvas ref={resRef} width={780} height={270} style={cv(100, 270)} />
      <canvas ref={measRef} width={780} height={330} style={cv(370, 330)} />
      <canvas ref={confRef} width={780} height={462} style={cv(700, 462)} />
    </div>
  );
}
